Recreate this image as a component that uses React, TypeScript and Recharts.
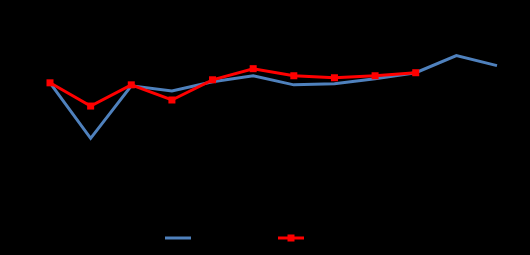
import { LineChart, Line, XAxis, YAxis, Legend } from 'recharts';

const categories = ['1', '2', '3', '4', '5', '6', '7', '8', '9', '10', '11', '12'];
const blueValues = [118, 63, 115, 110, 119, 125, 116, 117, 122, 128, 145, 135];
const redValues = [118, 95, 116, 101, 121, 132, 125, 123, 125, 128];

const data = categories.map((c, i) => ({
  name: c,
  blue: blueValues[i],
  red: i < redValues.length ? redValues[i] : null,
}));

const RedSquare = (props: any) => {
  const { cx, cy, index } = props;
  if (cx == null || cy == null) return <g key={index} />;
  return <rect key={index} x={cx - 3.5} y={cy - 3.5} width={7} height={7} fill="#ff0000" />;
};

const LegendContent = () => (
  <svg width={530} height={20} style={{ display: 'block' }}>
    <line x1={165} x2={191} y1={8} y2={8} stroke="#4f81bd" strokeWidth={3} />
    <line x1={278} x2={304} y1={8} y2={8} stroke="#ff0000" strokeWidth={3} />
    <rect x={287.5} y={4.5} width={7} height={7} fill="#ff0000" />
  </svg>
);

const App = () => {
  return (
    <div style={{ position: 'absolute', left: 0, top: 0, width: 530, height: 255, background: '#000' }}>
      <LineChart width={530} height={255} data={data} margin={{ top: 0, right: 33, bottom: 33, left: 50 }}>
        <XAxis dataKey="name" hide />
        <YAxis domain={[0, 200]} hide />
        <Legend
          content={<LegendContent />}
          wrapperStyle={{ top: 230, left: 0, width: 530, height: 20 }}
        />
        <Line
          dataKey="blue"
          stroke="#4f81bd"
          strokeWidth={3}
          dot={false}
          isAnimationActive={false}
        />
        <Line
          dataKey="red"
          stroke="#ff0000"
          strokeWidth={3}
          dot={<RedSquare />}
          activeDot={false}
          isAnimationActive={false}
        />
      </LineChart>
    </div>
  );
};

export default App;
